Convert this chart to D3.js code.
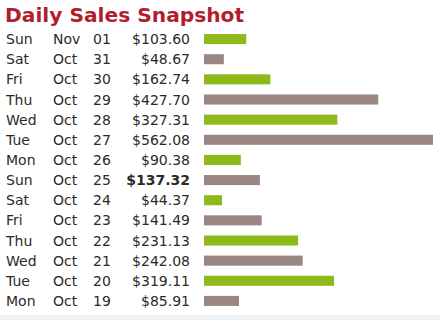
<!DOCTYPE html>
<html>
<head>
<meta charset="utf-8">
<script src="https://cdn.jsdelivr.net/npm/d3@7"></script>
<style>
  html, body { margin: 0; padding: 0; background: #ffffff; }
  svg { display: block; }
</style>
</head>
<body>
<script>
const title = "Daily Sales Snapshot";
const weekdays = ["Sun","Sat","Fri","Thu","Wed","Tue","Mon","Sun","Sat","Fri","Thu","Wed","Tue","Mon"];
const months = ["Nov","Oct","Oct","Oct","Oct","Oct","Oct","Oct","Oct","Oct","Oct","Oct","Oct","Oct"];
const days = ["01","31","30","29","28","27","26","25","24","23","22","21","20","19"];
const sales = [103.60, 48.67, 162.74, 427.70, 327.31, 562.08, 90.38, 137.32, 44.37, 141.49, 231.13, 242.08, 319.11, 85.91];
const highlighted = ["Oct 25"];

const W = 440, H = 320;
const svg = d3.select("body").append("svg").attr("width", W).attr("height", H);

svg.append("rect").attr("x", 0).attr("y", 315).attr("width", W).attr("height", 5).attr("fill", "#eef2f5");

svg.append("text")
  .attr("x", 5).attr("y", 22)
  .attr("font-family", "DejaVu Sans, Verdana, sans-serif")
  .attr("font-weight", "bold")
  .attr("font-size", 20.2)
  .attr("fill", "#b01e2d")
  .text(title);

const idx = d3.range(sales.length);
const y = d3.scaleBand().domain(idx).range([29, 311]).paddingInner(0.5).paddingOuter(0.25);
const x = d3.scaleLinear().domain([0, d3.max(sales)]).range([204, 433]);

const font = "DejaVu Sans, Verdana, sans-serif";
const fs = 14;
const rows = svg.append("g").selectAll("g").data(idx).join("g");
const cy = i => y(i) + y.bandwidth() / 2 + 5;

rows.append("text").attr("x", 6).attr("y", cy).attr("font-family", font).attr("font-size", fs).attr("fill", "#2a2a2a").text(i => weekdays[i]);
rows.append("text").attr("x", 53).attr("y", cy).attr("font-family", font).attr("font-size", fs).attr("fill", "#2a2a2a").text(i => months[i]);
rows.append("text").attr("x", 93).attr("y", cy).attr("font-family", font).attr("font-size", fs).attr("fill", "#2a2a2a").text(i => days[i]);
rows.append("text").attr("x", 190).attr("y", cy).attr("text-anchor", "end")
  .attr("font-family", font).attr("font-size", fs).attr("fill", "#2a2a2a")
  .attr("font-weight", i => highlighted.includes(months[i] + " " + days[i]) ? "bold" : "normal")
  .text(i => "$" + d3.format(".2f")(sales[i]));

rows.append("rect")
  .attr("x", x(0)).attr("y", i => y(i))
  .attr("width", i => x(sales[i]) - x(0))
  .attr("height", y.bandwidth())
  .attr("fill", i => i % 2 === 0 ? "#8dba1b" : "#9b8781");
</script>
</body>
</html>
